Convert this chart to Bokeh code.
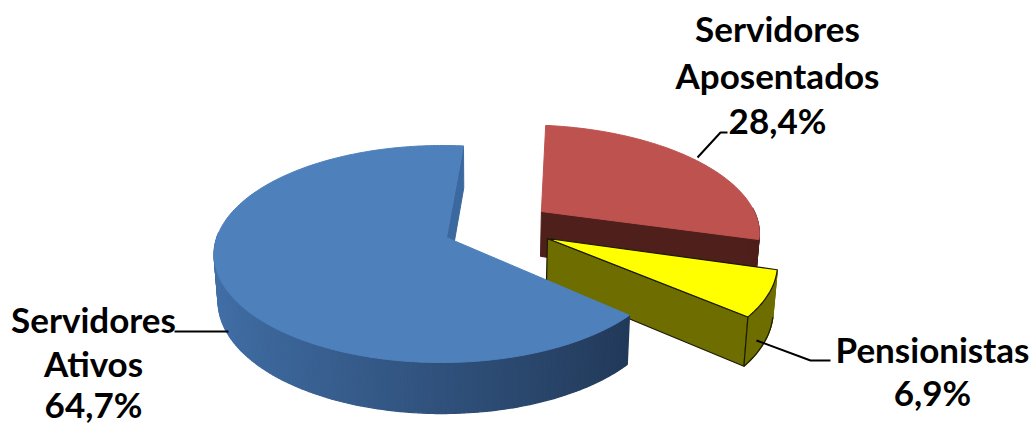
import math
from bokeh.plotting import figure
from bokeh.models import Range1d
from bokeh.core.properties import value
from bokeh.embed import file_html
from bokeh.resources import INLINE

# data
categories = ["Servidores Ativos", "Servidores Aposentados", "Pensionistas"]
shares = [64.7, 28.4, 6.9]

# styling / 3D camera
FIRST_ANGLE = 5.0
ORDER = [1, 2, 0]   # clockwise from the top: red, yellow, blue
CX, CY, A, B, K, H, DEPTH, KD, VX, TAPER = 446, 237, 225, 106, 0.152, 0.02, 46, 0.097, 480, 0.985
STYLE = {
    0: dict(center=(0, 0), r=1.0, trim=(0, 0), top="#4e80bc", wall=None, radial="#3a689f", line=None),
    1: dict(center=(0.442, 0.257), r=1.02, trim=(0, 1.5), top="#bd524f", wall="#4f1f1c", radial="#4f1f1c", line=None),
    2: dict(center=(0.452, -0.0095), r=1.035, trim=(-1, 1), top="#ffff00", wall="#6e6e00", radial="#6e6e00", line="#1a1a00"),
}
WALL_L, WALL_R = (0x42, 0x70, 0xa8), (0x1e, 0x32, 0x4e)


def proj(X, Y):
    d = 1 + K * Y + H * X
    return CX + A * X / d, CY - B * Y / d, d


def down(X, Y):
    x, y, d = proj(X, Y)
    return VX + (x - VX) * TAPER, y + DEPTH / (1 + KD * Y)


def world(c, r, deg):
    t = math.radians(deg)
    return c[0] + r * math.sin(t), c[1] + r * math.cos(t)


p = figure(width=1032, height=425, output_backend="svg", toolbar_location=None,
           x_range=Range1d(0, 1032), y_range=Range1d(425, 0), min_border=0)
p.axis.visible = False
p.grid.visible = False
p.outline_line_color = None
p.background_fill_color = "white"


def poly(pts, fill, line=None, lw=1.0):
    p.patch([q[0] for q in pts], [q[1] for q in pts], fill_color=fill,
            line_color=line or fill, line_width=1.2 if line else lw)


angle = FIRST_ANGLE
starts = {}
for i in ORDER:
    starts[i] = (angle, angle + shares[i] * 3.6)
    angle += shares[i] * 3.6

for i in ORDER:
    s = STYLE[i]
    a0, a1 = starts[i][0] + s["trim"][0], starts[i][1] - s["trim"][1]
    n = max(8, int(a1 - a0))
    angs = [a0 + (a1 - a0) * j / n for j in range(n + 1)]
    rim = [world(s["center"], s["r"], u) for u in angs]
    c = s["center"]
    # the radial wall that faces the viewer
    q = rim[-1]
    poly([proj(*c)[:2], proj(*q)[:2], down(*q), down(*c)], s["radial"], s["line"])
    # arc wall, only the part facing the viewer
    for j in range(n):
        u = (angs[j] + angs[j + 1]) / 2
        if math.cos(math.radians(u)) > 0.05:
            continue
        if s["wall"]:
            col = s["wall"]
        else:
            f = min(1, max(0, (-math.sin(math.radians(u)) + 1) / 2))
            col = "#%02x%02x%02x" % tuple(int(WALL_R[m] + (WALL_L[m] - WALL_R[m]) * f) for m in range(3))
        poly([proj(*rim[j])[:2], proj(*rim[j + 1])[:2], down(*rim[j + 1]), down(*rim[j])], col, lw=1.4)
    if s["line"]:
        bot = [down(*q) for q in rim]
        p.line([q[0] for q in bot], [q[1] for q in bot], line_color=s["line"], line_width=1.2)
        e = rim[-1]
        p.line([proj(*e)[0], down(*e)[0]], [proj(*e)[1], down(*e)[1]], line_color=s["line"], line_width=1.2)
    # top
    poly([proj(*c)[:2]] + [proj(*q)[:2] for q in rim], s["top"], s["line"])

# leaders
for xs, ys in [([174, 228], [331, 331]), ([697, 720, 727], [157, 132, 132]), ([756, 810, 830], [340, 360, 360])]:
    p.line(xs, ys, line_color="black", line_width=2)


def pct(v):
    return f"{v:.1f}".replace(".", ",") + "%"


labels = [
    (777, 27, "Servidores"), (777, 74, "Aposentados"), (777, 119, pct(shares[1])),
    (93, 318, "Servidores"), (93, 362, "Ativos"), (93, 403, pct(shares[0])),
    (932, 348, "Pensionistas"), (932, 391, pct(shares[2])),
]
p.text([l[0] for l in labels], [l[1] for l in labels], text=[l[2] for l in labels],
       text_font=value("Lato"), text_font_style="bold", text_font_size="35px",
       text_align="center", text_baseline="middle", text_color="black")

open("out.html", "w").write(file_html(p, INLINE))
